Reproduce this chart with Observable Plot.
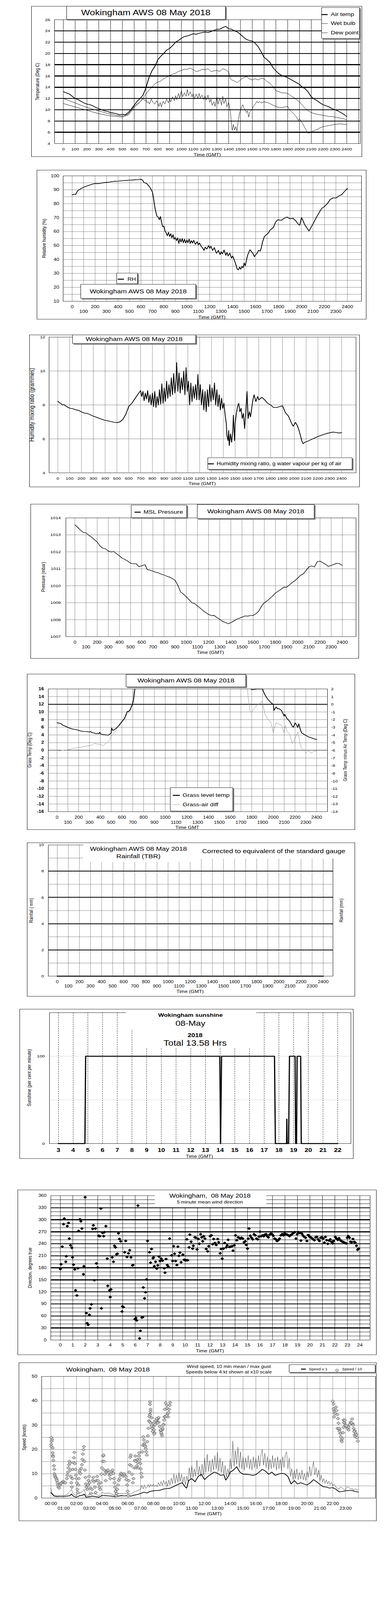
<!DOCTYPE html>
<html><head><meta charset="utf-8">
<script src="https://cdn.jsdelivr.net/npm/d3@7"></script>
<script src="https://cdn.jsdelivr.net/npm/@observablehq/plot@0.6"></script>
<style>
html,body{margin:0;padding:0;background:#fff;overflow:hidden;}
#wrap{position:relative;width:1000px;height:4096px;overflow:hidden;background:#fff}
#root{position:absolute;left:0;top:0;width:1000px;height:5000px;background:#fff;font-family:"Liberation Sans",Arial,Helvetica,sans-serif;color:#000;overflow:hidden;transform-origin:0 0}
</style></head><body><div id="wrap"><div id="root"></div></div>
<script>
// ---------------- DATA (hours GMT, value) ----------------
const airTemp = [[0,13.2],[0.25,13.0],[0.5,12.8],[0.75,12.4],[1,12.0],[1.25,11.8],[1.5,11.5],[1.75,11.2],[2,11.0],[2.25,10.9],[2.5,10.7],[2.75,10.4],[3,10.2],[3.25,10.0],[3.5,9.8],[3.75,9.7],[4,9.5],[4.25,9.4],[4.5,9.3],[4.75,9.1],[5,9.2],[5.25,9.1],[5.5,9.5],[5.75,10.1],[6,10.8],[6.25,11.5],[6.5,12.0],[6.75,12.6],[7,13.9],[7.25,15.7],[7.5,16.9],[7.75,17.7],[8,18.9],[8.25,19.5],[8.5,20.0],[8.75,20.6],[9,20.9],[9.25,21.4],[9.5,22.0],[9.75,22.3],[10,22.7],[10.25,23.0],[10.5,23.1],[10.75,23.3],[11,23.5],[11.25,23.4],[11.5,23.6],[11.75,23.7],[12,23.8],[12.25,23.7],[12.5,23.9],[12.75,24.1],[13,24.3],[13.25,24.3],[13.5,24.6],[13.75,24.8],[14,24.4],[14.25,24.3],[14.5,24.0],[14.75,23.8],[15,23.4],[15.25,22.9],[15.5,22.5],[15.75,22.3],[16,22.2],[16.25,21.8],[16.5,21.2],[16.75,20.3],[17,19.3],[17.25,18.9],[17.5,18.4],[17.75,17.5],[18,16.9],[18.25,16.4],[18.5,16.1],[18.75,15.9],[19,15.7],[19.25,15.4],[19.5,15.1],[19.75,14.8],[20,14.5],[20.25,14.0],[20.5,13.7],[20.75,13.1],[21,12.3],[21.25,11.9],[21.5,11.6],[21.75,11.2],[22,10.9],[22.25,10.7],[22.5,10.5],[22.75,10.2],[23,10.0],[23.25,9.8],[23.5,9.5],[23.75,9.2],[24,8.8]];
const wetBulb = [[0,12.0],[0.5,11.6],[1,11.2],[1.5,10.8],[2,10.4],[2.5,10.1],[3,9.8],[3.5,9.5],[4,9.2],[4.5,9.0],[5,8.9],[5.5,9.2],[6,10.6],[6.5,11.4],[7,12.8],[7.25,13.5],[7.5,14.0],[7.75,14.6],[8,14.9],[8.25,15.1],[8.5,15.5],[8.75,15.8],[9,16.1],[9.25,16.3],[9.5,16.5],[9.75,16.8],[10,17.0],[10.25,17.2],[10.5,17.2],[10.75,17.4],[11,17.1],[11.25,16.8],[11.5,16.9],[11.75,17.2],[12,17.1],[12.25,17.3],[12.5,16.8],[12.75,16.9],[13,17.0],[13.25,16.8],[13.5,17.3],[13.75,17.1],[14,16.7],[14.15,15.5],[14.25,15.3],[14.5,15.1],[14.75,14.8],[15,15.3],[15.25,15.7],[15.5,15.9],[15.75,15.5],[16,15.3],[16.25,15.5],[16.5,15.3],[16.75,15.6],[17,15.5],[17.25,15.0],[17.5,14.7],[17.75,14.1],[18,13.4],[18.25,13.2],[18.5,13.0],[18.75,13.0],[19,12.9],[19.25,12.5],[19.5,12.2],[19.75,11.8],[20,11.4],[20.25,10.8],[20.5,10.2],[20.75,9.8],[21,9.5],[21.25,9.3],[21.5,9.2],[21.75,9.1],[22,9.0],[22.25,8.9],[22.5,8.8],[22.75,8.8],[23,8.7],[23.25,8.6],[23.5,8.5],[23.75,8.4],[24,8.2]];
const dewPoint = [[0,11.1],[0.5,10.8],[1,10.5],[1.5,10.2],[2,9.9],[2.5,9.6],[3,9.3],[3.5,9.1],[4,8.9],[4.5,8.8],[5,8.7],[5.5,9.1],[6,10.4],[6.5,11.4],[6.75,12.0],[6.9,11.6],[7,11.8],[7.1,11.2],[7.2,11.4],[7.3,11.0],[7.45,11.9],[7.6,11.3],[7.75,11.0],[7.9,11.6],[8,11.2],[8.1,10.6],[8.2,11.3],[8.3,10.5],[8.45,11.5],[8.6,11.0],[8.75,11.9],[8.9,11.2],[9,12.0],[9.1,11.4],[9.25,12.3],[9.4,11.6],[9.5,12.5],[9.6,11.8],[9.75,12.9],[9.85,12.1],[10,13.4],[10.1,12.3],[10.25,13.0],[10.4,12.4],[10.5,13.6],[10.6,12.5],[10.75,13.2],[10.9,12.3],[11,12.9],[11.1,11.9],[11.25,12.8],[11.4,12.0],[11.5,12.9],[11.6,12.1],[11.75,12.6],[11.9,11.8],[12,12.5],[12.1,11.7],[12.25,12.6],[12.4,11.3],[12.5,11.9],[12.6,10.8],[12.75,11.4],[12.85,10.6],[13,12.3],[13.1,11.0],[13.25,12.1],[13.4,10.8],[13.5,12.4],[13.6,11.1],[13.75,11.9],[13.85,10.5],[14,11.3],[14.1,10.2],[14.15,9.6],[14.25,7.2],[14.3,6.3],[14.4,7.4],[14.5,6.4],[14.6,7.0],[14.7,6.2],[14.8,7.8],[14.9,9.2],[15,9.9],[15.1,10.5],[15.2,10.9],[15.3,10.3],[15.4,10.0],[15.5,9.5],[15.6,9.8],[15.7,8.7],[15.8,9.6],[15.9,9.9],[16,10.1],[16.1,10.6],[16.25,11.0],[16.4,11.5],[16.5,11.2],[16.6,11.5],[16.75,11.2],[17,11.4],[17.25,11.3],[17.5,11.1],[17.75,10.8],[18,10.6],[18.25,10.4],[18.5,10.4],[18.75,10.5],[19,10.6],[19.1,10.2],[19.25,9.8],[19.5,9.3],[19.75,8.7],[19.9,8.1],[20,8.4],[20.1,8.1],[20.25,7.6],[20.5,6.6],[20.7,5.9],[20.8,5.8],[21,6.1],[21.25,6.3],[21.5,6.5],[21.75,6.8],[22,7.0],[22.25,7.1],[22.5,7.2],[22.75,7.3],[23,7.4],[23.25,7.45],[23.5,7.5],[23.75,7.4],[24,7.4]];

const relHumidity = [[0,86.4],[0.15,86.8],[0.3,86.6],[0.5,89.5],[0.75,90.7],[1,91.8],[1.25,92.6],[1.5,93.3],[1.75,94.0],[2,94.5],[2.25,94.4],[2.5,94.7],[2.75,95.1],[3,95.3],[3.25,95.5],[3.5,95.9],[3.75,96.1],[4,96.2],[4.25,96.4],[4.5,96.6],[4.75,96.7],[5,96.9],[5.25,97.0],[5.5,97.2],[5.75,97.3],[6,97.5],[6.15,96.9],[6.25,95.3],[6.5,94.5],[6.75,92.2],[6.9,90.0],[7,88.4],[7.1,83.8],[7.2,78.0],[7.3,74.0],[7.4,71.0],[7.5,70.5],[7.6,68.5],[7.7,70.8],[7.8,66.5],[7.9,63.5],[8,64.0],[8.1,60.5],[8.2,59.0],[8.3,57.0],[8.4,59.5],[8.5,56.5],[8.6,58.5],[8.7,55.5],[8.8,57.8],[8.9,54.5],[9,55.8],[9.1,53.5],[9.2,55.5],[9.3,51.5],[9.4,54.8],[9.5,52.5],[9.6,55.0],[9.7,52.0],[9.8,54.5],[9.9,51.8],[10,54.0],[10.1,52.0],[10.2,54.6],[10.3,51.5],[10.4,53.5],[10.5,51.8],[10.6,53.8],[10.75,50.8],[10.9,52.8],[11,50.5],[11.1,51.8],[11.25,49.5],[11.4,48.0],[11.5,46.5],[11.6,48.8],[11.75,47.5],[11.9,50.0],[12,48.0],[12.1,49.5],[12.25,46.5],[12.4,48.5],[12.5,46.0],[12.6,44.5],[12.75,46.5],[12.9,43.5],[13,45.5],[13.1,44.0],[13.25,46.8],[13.4,43.0],[13.5,45.0],[13.6,42.5],[13.75,44.5],[13.9,41.0],[14,42.5],[14.1,40.5],[14.25,37.0],[14.4,33.0],[14.5,32.5],[14.6,34.5],[14.7,33.0],[14.8,35.0],[14.9,34.0],[15,37.5],[15.1,35.5],[15.2,39.5],[15.3,43.0],[15.4,45.0],[15.5,47.0],[15.6,46.0],[15.75,44.5],[15.9,42.0],[16,43.5],[16.1,44.0],[16.25,46.5],[16.4,46.0],[16.5,48.5],[16.6,52.5],[16.75,56.2],[16.9,57.5],[17,58.1],[17.15,59.5],[17.25,61.0],[17.4,62.0],[17.5,62.5],[17.6,64.0],[17.75,66.9],[17.9,68.3],[18,68.4],[18.25,68.1],[18.5,69.6],[18.75,70.4],[19,69.2],[19.25,69.6],[19.5,67.7],[19.75,65.0],[19.85,64.6],[20,70.0],[20.1,68.5],[20.25,65.4],[20.5,62.3],[20.65,60.5],[20.8,62.5],[21,65.5],[21.25,69.5],[21.5,73.0],[21.75,76.5],[22,78.0],[22.25,80.0],[22.5,83.0],[22.75,84.2],[23,84.0],[23.25,85.5],[23.5,86.5],[23.75,88.8],[24,91.0]];

const mixingRatio = [[0,8.22],[0.15,8.12],[0.25,8.09],[0.4,8.0],[0.5,8.03],[0.75,7.9],[1,7.81],[1.25,7.78],[1.5,7.72],[1.75,7.68],[2,7.59],[2.25,7.52],[2.5,7.5],[2.75,7.42],[3,7.34],[3.25,7.28],[3.5,7.21],[3.75,7.15],[4,7.09],[4.25,7.06],[4.5,7.02],[4.75,6.98],[5,6.96],[5.25,7.0],[5.5,7.15],[5.75,7.45],[6,7.91],[6.25,8.09],[6.5,8.35],[6.75,8.6],[7,8.85],[7.1,8.5],[7.2,8.8],[7.3,8.25],[7.4,8.7],[7.5,8.35],[7.6,8.85],[7.7,8.15],[7.8,8.6],[7.9,8.0],[8,8.7],[8.1,7.9],[8.2,8.8],[8.3,7.85],[8.4,8.5],[8.5,8.0],[8.6,8.9],[8.7,8.05],[8.8,9.25],[8.9,8.1],[9,9.0],[9.1,8.2],[9.2,9.4],[9.3,8.4],[9.4,9.2],[9.5,8.5],[9.6,9.6],[9.7,8.6],[9.8,9.85],[9.9,8.7],[10,9.5],[10.05,10.5],[10.15,8.8],[10.25,9.9],[10.35,8.7],[10.45,9.6],[10.55,8.9],[10.65,10.0],[10.75,8.6],[10.85,10.2],[10.95,8.8],[11.05,9.4],[11.15,8.0],[11.25,9.3],[11.35,8.2],[11.45,9.1],[11.55,8.4],[11.65,9.2],[11.75,8.3],[11.85,9.8],[11.95,8.3],[12.05,9.2],[12.15,8.0],[12.25,8.9],[12.35,7.7],[12.45,8.8],[12.55,7.6],[12.65,8.9],[12.75,7.9],[12.85,9.2],[12.95,8.2],[13.05,9.0],[13.15,8.3],[13.25,9.3],[13.35,8.0],[13.45,8.9],[13.55,7.9],[13.65,8.6],[13.75,7.7],[13.85,8.4],[13.95,7.8],[14.05,8.1],[14.15,7.4],[14.25,6.9],[14.3,6.2],[14.4,5.9],[14.45,6.5],[14.5,5.6],[14.6,6.3],[14.7,5.8],[14.8,6.5],[14.85,7.4],[14.95,5.9],[15,6.9],[15.1,7.5],[15.2,7.9],[15.3,8.1],[15.4,7.6],[15.5,7.8],[15.6,7.2],[15.7,7.5],[15.8,6.6],[15.9,7.6],[16,8.8],[16.1,7.2],[16.2,7.6],[16.3,7.3],[16.4,7.8],[16.5,8.3],[16.6,8.6],[16.75,8.2],[16.9,8.5],[17,8.3],[17.25,8.45],[17.5,8.3],[17.75,8.1],[18,8.0],[18.25,7.85],[18.5,7.85],[18.75,7.9],[19,7.95],[19.25,7.55],[19.5,7.35],[19.75,6.95],[19.9,6.75],[20,6.85],[20.1,6.97],[20.25,6.8],[20.4,6.5],[20.5,6.25],[20.65,5.85],[20.75,5.72],[20.9,5.8],[21,5.83],[21.25,5.9],[21.5,5.98],[21.75,6.06],[22,6.14],[22.25,6.2],[22.5,6.26],[22.75,6.32],[23,6.36],[23.25,6.4],[23.5,6.38],[23.75,6.35],[24,6.36]];

const mslPressure = [[0,1013.59],[0.25,1013.45],[0.5,1013.28],[0.75,1013.15],[1,1013.12],[1.25,1012.98],[1.5,1012.87],[1.75,1012.72],[2,1012.58],[2.25,1012.35],[2.5,1012.22],[2.75,1012.18],[3,1012.05],[3.25,1011.99],[3.5,1012.02],[3.75,1011.88],[4,1011.77],[4.25,1011.62],[4.5,1011.55],[4.75,1011.45],[5,1011.33],[5.25,1011.3],[5.5,1011.3],[5.75,1011.12],[6,1011.18],[6.15,1011.22],[6.3,1011.24],[6.5,1010.95],[6.75,1010.92],[7,1010.86],[7.25,1010.8],[7.5,1010.76],[7.75,1010.68],[8,1010.64],[8.25,1010.56],[8.5,1010.51],[8.75,1010.42],[9,1010.32],[9.25,1010.01],[9.5,1009.63],[9.75,1009.5],[10,1009.35],[10.25,1009.18],[10.5,1009.0],[10.75,1008.95],[11,1008.81],[11.25,1008.68],[11.5,1008.53],[11.75,1008.42],[12,1008.31],[12.25,1008.24],[12.5,1008.25],[12.75,1008.12],[13,1008.02],[13.25,1007.9],[13.5,1007.84],[13.75,1007.76],[14,1007.82],[14.25,1007.92],[14.5,1008.02],[14.75,1008.08],[15,1008.15],[15.25,1008.22],[15.5,1008.21],[15.75,1008.24],[16,1008.25],[16.25,1008.35],[16.5,1008.5],[16.75,1008.8],[17,1009.0],[17.25,1009.1],[17.5,1009.25],[17.75,1009.4],[18,1009.57],[18.25,1009.68],[18.5,1009.79],[18.75,1009.92],[19,1009.91],[19.25,1010.05],[19.5,1010.19],[19.75,1010.3],[20,1010.45],[20.25,1010.62],[20.5,1010.7],[20.75,1010.9],[21,1011.11],[21.25,1011.17],[21.5,1011.11],[21.75,1011.42],[22,1011.45],[22.25,1011.36],[22.5,1011.26],[22.75,1011.14],[23,1011.2],[23.25,1011.26],[23.5,1011.33],[23.75,1011.3],[24,1011.2]];

const grassTemp = [[0,7.24],[0.1,7.1],[0.25,7.05],[0.4,6.9],[0.5,6.6],[0.75,6.3],[1,5.96],[1.25,5.7],[1.5,5.51],[1.75,5.4],[2,5.21],[2.25,5.0],[2.5,4.92],[2.75,4.9],[3,4.77],[3.1,4.9],[3.25,4.6],[3.5,4.47],[3.6,4.3],[3.75,4.45],[3.85,4.3],[3.95,4.7],[4,4.32],[4.25,4.1],[4.5,4.02],[4.75,3.96],[5,4.47],[5.05,5.8],[5.15,5.2],[5.25,5.3],[5.5,5.81],[5.75,6.55],[6,7.45],[6.25,8.34],[6.4,9.5],[6.5,10.13],[6.6,10.1],[6.75,10.58],[6.9,11.5],[7,12.2],[7.1,13.7],[7.2,16.1],[7.3,19],[12,null],[17.8,19],[17.9,16.2],[18,15.8],[18.25,15.9],[18.5,16.0],[18.75,16.0],[19,16.0],[19.1,15.2],[19.25,14.3],[19.5,13.26],[19.75,12.5],[20,11.9],[20.05,10.4],[20.25,11.3],[20.4,10.8],[20.5,10.9],[20.75,10.4],[21,8.9],[21.05,9.4],[21.25,8.3],[21.5,7.6],[21.75,6.3],[21.85,6.0],[22,7.15],[22.1,6.8],[22.25,5.96],[22.35,6.9],[22.5,5.36],[22.6,4.6],[22.75,4.32],[23,3.87],[23.25,3.5],[23.5,3.27],[23.75,3.0],[24,2.83]];
const grassAirDiff = [[0,-6.0],[0.25,-6.05],[0.5,-5.98],[0.75,-6.02],[1,-5.93],[1.25,-5.85],[1.5,-5.7],[1.75,-5.72],[2,-5.63],[2.25,-5.6],[2.5,-5.48],[2.75,-5.45],[3,-5.4],[3.25,-5.3],[3.4,-5.15],[3.5,-5.1],[3.75,-5.2],[4,-5.25],[4.25,-5.4],[4.5,-5.1],[4.75,-4.88],[5,-4.21],[5.25,-3.77],[5.5,-3.32],[5.75,-2.57],[6,-2.13],[6.25,-1.75],[6.5,-1.25],[6.75,-0.95],[7,0.55],[7.1,2.05],[7.2,3.5],[12,null],[17.55,3.5],[17.6,2.05],[17.7,0.55],[17.85,-1.0],[18,-1.02],[18.25,-0.5],[18.5,-0.12],[18.75,0.1],[18.9,0.4],[19,0.1],[19.25,-1.38],[19.5,-1.98],[19.75,-2.28],[20,-3.77],[20.1,-3.02],[20.25,-2.43],[20.5,-2.57],[20.75,-2.73],[21,-3.77],[21.1,-2.73],[21.25,-3.47],[21.5,-3.92],[21.75,-5.1],[22,-4.51],[22.25,-3.62],[22.4,-4.51],[22.5,-5.4],[22.75,-6.0],[23,-6.3],[23.25,-6.07],[23.5,-6.37],[23.75,-6.1],[24,-6.15]];

const rainfall = [[0,0],[6,0],[12,0],[18,0],[24,0]];

const sunshine = [[3,0],[4.8,0],[4.85,100],[13.98,100],[14.03,0],[14.1,100],[17.7,100],[17.76,0],[18.52,0],[18.54,28],[18.56,0],[18.66,0],[18.72,100],[19.1,100],[19.14,0],[19.2,0],[19.24,100],[19.48,100],[19.52,0],[22,0]];

const windDir = [[0,177],[0.06,189],[0.16,233],[0.26,289],[0.32,303],[0.44,195],[0.48,209],[0.56,284],[0.66,292],[0.72,253],[0.82,236],[0.92,230],[0.98,206],[1.06,188],[1.16,176],[1.22,124],[1.33,111],[1.41,179],[1.47,272],[1.57,301],[1.65,296],[1.73,278],[1.85,164],[1.89,184],[1.99,356],[2.09,67],[2.15,42],[2.23,38],[2.33,63],[2.39,79],[2.49,89],[2.59,277],[2.65,286],[2.73,149],[2.81,278],[2.89,191],[2.99,181],[3.07,260],[3.17,259],[3.25,328],[3.29,79],[3.39,267],[3.47,259],[3.53,269],[3.65,284],[3.76,203],[3.80,135],[3.94,124],[4.0,107],[4.06,126],[4.16,206],[4.26,195],[4.34,235],[4.42,231],[4.50,214],[4.58,215],[4.66,266],[4.74,252],[4.84,246],[4.94,71],[4.98,84],[5.06,82],[5.16,219],[5.24,247],[5.34,207],[5.46,216],[5.56,224],[5.66,206],[5.78,186],[5.82,187],[5.98,52],[6.06,55],[6.12,49],[6.22,335],[6.35,4],[6.41,23],[6.53,56],[6.61,57],[6.65,131],[6.75,104],[6.83,119],[6.91,151],[6.99,247],[7.15,219],[7.23,193],[7.31,227],[7.43,204],[7.47,206],[7.53,184],[7.63,195],[7.73,178],[7.81,186],[7.91,208],[7.99,197],[8.09,203],[8.19,198],[8.33,179],[8.39,168],[8.47,202],[8.57,187],[8.65,183],[8.76,253],[8.92,211],[9.0,197],[9.08,234],[9.16,215],[9.24,197],[9.34,187],[9.42,233],[9.50,210],[9.58,218],[9.68,194],[9.82,213],[9.92,200],[10.02,199],[10.08,199],[10.14,251],[10.20,199],[10.32,231],[10.38,263],[10.48,245],[10.60,228],[10.66,235],[10.78,256],[10.86,255],[10.96,226],[11.06,252],[11.14,240],[11.24,264],[11.33,256],[11.41,246],[11.49,259],[11.59,253],[11.69,227],[11.81,221],[11.89,234],[12.01,259],[12.11,261],[12.21,239],[12.29,252],[12.39,242],[12.49,237],[12.61,252],[12.69,244],[12.81,216],[12.89,227],[12.97,203],[13.07,228],[13.17,242],[13.29,231],[13.37,236],[13.45,250],[13.55,232],[13.65,233],[13.76,234],[13.84,223],[13.94,236],[14.04,261],[14.14,249],[14.24,256],[14.32,255],[14.42,253],[14.52,255],[14.62,253],[14.72,244],[14.82,246],[14.90,237],[15.0,228],[15.06,253],[15.12,278],[15.22,260],[15.32,255],[15.42,251],[15.52,264],[15.62,261],[15.72,253],[15.82,251],[15.92,258],[16.0,270],[16.10,259],[16.20,261],[16.30,259],[16.39,263],[16.49,264],[16.59,259],[16.67,256],[16.77,263],[16.87,265],[16.97,264],[17.07,260],[17.17,253],[17.27,251],[17.37,247],[17.47,249],[17.57,253],[17.67,261],[17.77,264],[17.87,261],[17.97,266],[18.07,264],[18.17,263],[18.27,261],[18.37,259],[18.47,262],[18.57,264],[18.67,267],[18.78,269],[18.88,253],[18.98,264],[19.08,269],[19.18,267],[19.28,248],[19.36,265],[19.46,260],[19.56,257],[19.66,255],[19.76,247],[19.86,262],[19.96,258],[20.06,256],[20.16,254],[20.26,251],[20.36,249],[20.46,256],[20.56,257],[20.66,251],[20.76,247],[20.86,255],[20.96,256],[21.06,253],[21.16,243],[21.24,257],[21.35,249],[21.43,240],[21.53,248],[21.63,251],[21.73,245],[21.83,241],[21.89,247],[22.03,257],[22.13,253],[22.23,250],[22.33,254],[22.43,249],[22.51,247],[22.61,245],[22.71,244],[22.81,242],[22.91,241],[22.99,255],[23.07,259],[23.17,255],[23.25,245],[23.35,244],[23.45,252],[23.55,245],[23.63,243],[23.73,235],[23.82,225],[23.90,228]];

const windMean = [[0,2.3],[0.1,1.7],[0.25,0.8],[0.5,0.6],[0.75,0.65],[1,0.65],[1.25,0.8],[1.5,1.0],[1.6,1.7],[1.75,0.8],[2,0.35],[2.25,1.0],[2.5,1.2],[2.6,1.7],[2.75,0.35],[3,0.6],[3.25,0.8],[3.5,0.6],[3.75,0.35],[4,1.1],[4.25,1.0],[4.5,0.9],[4.75,0.8],[5,0.6],[5.25,0.8],[5.5,1.0],[5.75,0.9],[6,1.0],[6.25,0.8],[6.5,1.2],[6.75,1.45],[7,1.9],[7.25,2.4],[7.5,2.1],[7.75,2.75],[8,3.0],[8.25,3.1],[8.5,3.2],[8.75,3.65],[9,3.9],[9.25,4.0],[9.5,4.5],[9.75,5.2],[10,5.8],[10.25,6.3],[10.5,4.5],[10.6,4.1],[10.75,7.2],[11,8.0],[11.25,6.7],[11.5,8.9],[11.75,9.8],[12,7.6],[12.25,8.9],[12.5,9.8],[12.75,10.7],[13,10.2],[13.25,9.35],[13.5,9.6],[13.65,7.4],[13.85,8.9],[14,10.7],[14.25,11.5],[14.5,12.9],[14.75,10.7],[15,9.8],[15.25,9.8],[15.5,9.6],[15.75,9.35],[16,9.6],[16.25,10.7],[16.5,11.8],[16.75,11.1],[17,9.8],[17.25,10.7],[17.5,9.35],[17.75,9.8],[18,10.2],[18.25,10.0],[18.5,8.9],[18.75,5.8],[19,7.2],[19.25,5.8],[19.5,6.3],[19.75,5.8],[20,5.4],[20.25,6.3],[20.5,7.6],[20.75,6.7],[21,5.6],[21.25,4.7],[21.5,4.5],[21.75,4.1],[22,4.3],[22.25,3.65],[22.5,2.55],[22.75,2.75],[23,3.0],[23.25,3.1],[23.5,3.1],[23.75,2.75],[24,2.45]];
const windGust = [[0,4.1],[0.1,1.9],[0.25,1.2],[0.5,1.0],[0.75,1.1],[1,1.0],[1.25,1.45],[1.5,2.8],[1.6,3.6],[1.75,1.7],[2,1.0],[2.1,2.3],[2.25,1.9],[2.5,2.8],[2.6,3.6],[2.75,1.0],[3,1.45],[3.25,1.9],[3.5,1.7],[3.75,1.0],[4,2.3],[4.25,1.9],[4.5,2.1],[4.75,1.7],[5,1.0],[5.25,1.7],[5.5,1.9],[5.75,1.8],[6,1.9],[6.25,1.7],[6.5,2.55],[6.75,3.0],[7,3.6],[7.1,5.2],[7.2,3.8],[7.3,5.4],[7.4,4.0],[7.5,4.4],[7.6,5.6],[7.7,4.4],[7.8,5.6],[7.9,4.8],[8,5.8],[8.1,4.7],[8.2,5.4],[8.3,4.6],[8.4,6.4],[8.5,5.0],[8.6,6.8],[8.7,5.2],[8.8,7.4],[8.9,5.6],[9,6.8],[9.1,4.8],[9.2,7.5],[9.3,5.4],[9.4,8.2],[9.5,5.8],[9.6,10.0],[9.7,6.0],[9.8,9.5],[9.9,6.5],[10,10.5],[10.1,7.0],[10.2,9.8],[10.3,6.2],[10.4,8.8],[10.5,5.5],[10.6,9.0],[10.7,7.0],[10.8,12.5],[10.9,8.0],[11,13.5],[11.1,8.5],[11.2,12.0],[11.3,9.0],[11.4,15.5],[11.5,9.5],[11.6,13.0],[11.7,8.8],[11.8,14.0],[11.9,9.5],[12,16.5],[12.1,10.5],[12.2,18.0],[12.3,11.0],[12.4,15.5],[12.5,10.5],[12.6,16.0],[12.7,11.5],[12.8,17.5],[12.9,12.0],[13,18.8],[13.1,11.0],[13.2,16.5],[13.3,10.5],[13.4,15.0],[13.5,9.8],[13.6,13.5],[13.7,8.5],[13.8,12.0],[13.9,10.0],[14,16.0],[14.1,12.0],[14.2,23.5],[14.3,13.0],[14.4,19.5],[14.5,14.0],[14.6,21.0],[14.7,12.5],[14.8,19.0],[14.9,12.0],[15,17.0],[15.1,11.5],[15.2,16.5],[15.3,12.5],[15.4,17.5],[15.5,12.0],[15.6,16.0],[15.7,11.5],[15.8,17.0],[15.9,12.5],[16,16.5],[16.1,12.0],[16.2,17.5],[16.3,13.0],[16.4,18.0],[16.5,20.0],[16.6,13.5],[16.7,18.5],[16.8,12.5],[16.9,17.0],[17,11.5],[17.1,16.0],[17.2,12.0],[17.3,17.5],[17.4,12.5],[17.5,16.5],[17.6,11.5],[17.7,17.0],[17.8,12.0],[17.9,16.0],[18,11.0],[18.1,17.0],[18.2,12.5],[18.3,18.0],[18.4,19.0],[18.5,12.0],[18.6,16.5],[18.7,9.0],[18.8,12.0],[18.9,7.5],[19,11.5],[19.1,8.0],[19.2,12.0],[19.3,7.5],[19.4,10.5],[19.5,7.8],[19.6,11.5],[19.7,7.5],[19.8,10.0],[19.9,7.2],[20,11.0],[20.1,8.5],[20.2,13.0],[20.3,9.0],[20.4,12.5],[20.5,15.0],[20.6,9.5],[20.7,12.5],[20.8,8.5],[20.9,11.5],[21,7.0],[21.1,9.5],[21.2,6.5],[21.3,8.0],[21.4,6.0],[21.5,7.5],[21.6,5.8],[21.7,7.0],[21.8,5.5],[21.9,6.5],[22,5.0],[22.1,5.8],[22.25,4.5],[22.4,4.0],[22.5,3.6],[22.6,4.6],[22.75,4.1],[22.9,3.4],[23,3.6],[23.1,4.6],[23.25,4.5],[23.4,3.5],[23.5,4.1],[23.6,3.2],[23.75,3.9],[23.9,3.3],[24,3.6]];
const windLowX10 = [[0.04,24.9],[0.1,24.1],[0.06,23.4],[0.02,22.1],[0.04,21.2],[0.14,20.6],[0.14,18.6],[0.16,17.5],[0.18,17.0],[0.2,15.5],[0.24,13.3],[0.27,11.8],[0.27,10.0],[0.31,9.4],[0.35,8.7],[0.39,8.3],[0.45,7.8],[0.47,7.2],[0.51,6.3],[0.55,5.4],[0.59,4.5],[0.65,4.1],[0.7,5.2],[0.74,5.8],[0.82,6.1],[0.9,6.6],[0.98,6.8],[1.06,6.5],[1.13,6.3],[1.25,8.0],[1.29,9.4],[1.33,10.7],[1.37,12.4],[1.41,13.7],[1.45,15.1],[1.49,14.4],[1.53,11.5],[1.56,8.9],[1.6,6.3],[1.64,4.5],[1.68,8.0],[1.72,11.8],[1.76,14.6],[1.8,16.6],[1.84,18.8],[1.88,14.2],[1.92,11.8],[1.96,9.4],[2.0,8.0],[2.03,6.3],[2.07,3.6],[2.11,2.3],[2.15,5.4],[2.19,8.0],[2.23,10.7],[2.27,11.5],[2.31,10.0],[2.37,12.2],[2.43,13.7],[2.46,15.9],[2.5,18.1],[2.54,19.9],[2.58,21.2],[2.62,15.1],[2.66,11.5],[2.7,8.5],[2.74,5.8],[2.78,4.5],[2.84,3.6],[2.89,5.4],[2.93,7.2],[2.99,8.9],[3.03,6.3],[3.09,4.1],[3.15,1.9],[3.21,3.6],[3.27,7.2],[3.32,8.5],[3.38,6.7],[3.44,4.5],[3.5,2.3],[3.56,7.2],[3.62,8.9],[3.68,7.2],[3.74,5.8],[3.79,4.5],[3.85,3.6],[3.89,6.3],[3.95,9.8],[3.99,12.4],[4.03,15.1],[4.07,17.3],[4.11,17.7],[4.15,15.1],[4.19,11.5],[4.22,9.8],[4.28,7.2],[4.34,10.7],[4.4,11.3],[4.46,11.5],[4.52,10.5],[4.58,9.4],[4.64,8.0],[4.69,9.8],[4.75,11.1],[4.81,11.5],[4.87,10.2],[4.93,8.0],[4.97,6.3],[5.01,4.5],[5.05,2.8],[5.09,1.0],[5.14,1.9],[5.18,3.6],[5.24,5.4],[5.3,7.2],[5.36,8.0],[5.42,9.4],[5.48,10.2],[5.54,9.8],[5.59,9.4],[5.65,9.1],[5.71,10.0],[5.77,9.4],[5.83,8.9],[5.89,7.6],[5.95,5.4],[6.0,2.8],[6.04,1.0],[6.08,7.2],[6.12,10.7],[6.16,13.7],[6.2,16.8],[6.24,17.7],[6.28,13.3],[6.34,9.8],[6.4,6.3],[6.45,8.0],[6.51,12.4],[6.55,15.5],[6.59,17.3],[6.63,15.1],[6.67,12.4],[6.71,13.3],[6.75,15.9],[6.79,14.6],[6.83,12.4],[6.86,17.3],[6.9,18.6],[6.94,15.9],[6.98,14.2],[7.02,12.0],[7.06,10.2],[7.1,8.7],[7.14,19.0],[7.18,21.7],[7.22,25.2],[7.26,23.9],[7.3,22.5],[7.33,21.7],[7.37,21.2],[7.41,20.3],[7.45,19.0],[7.49,17.7],[7.53,23.2],[7.57,25.6],[7.61,28.7],[7.65,31.8],[7.69,33.5],[7.73,34.4],[7.74,39.6],[7.74,38.5],[7.78,36.5],[7.78,35.6],[7.74,34.3],[7.86,33.0],[7.71,31.4],[7.98,30.8],[8.02,29.5],[8.06,28.1],[8.1,26.8],[8.13,30.3],[8.21,31.6],[8.29,32.3],[8.37,32.7],[8.41,31.2],[8.49,29.5],[8.57,27.7],[8.64,26.4],[8.72,28.1],[8.8,30.3],[8.84,32.1],[8.88,33.4],[8.9,36.5],[8.96,39.1],[9.04,38.2],[9.08,36.9],[9.12,34.7],[9.15,33.4],[9.19,35.2],[9.23,36.5],[9.27,38.2],[9.31,39.3],[7.78,30.9],[7.86,29.6],[7.9,28.7],[7.94,27.4],[8.06,26.3],[8.18,31.8],[8.25,32.6],[8.33,30.9],[8.41,33.1],[8.57,28.0],[8.61,26.9],[8.68,25.6],[8.72,28.7],[8.76,30.0],[8.92,33.5],[9.04,33.9],[22.0,39.8],[22.06,38.7],[22.06,36.7],[22.12,35.8],[22.18,34.7],[22.1,33.4],[22.25,37.4],[22.29,36.0],[22.35,34.3],[22.41,32.7],[22.45,30.8],[22.37,28.6],[22.53,28.1],[22.84,32.1],[22.92,30.8],[23.0,29.9],[23.1,29.5],[23.16,28.6],[23.24,29.2],[23.31,30.3],[23.39,31.2],[23.51,32.5],[23.55,30.5],[23.63,28.6],[23.72,27.7],[22.49,28.7],[22.53,27.4],[22.59,26.5],[22.63,25.2],[22.67,23.8],[22.71,23.2],[22.75,24.5],[22.8,26.9],[22.84,29.1],[22.88,31.1],[22.94,32.0],[23.08,29.6],[23.24,28.0],[23.47,30.9],[23.59,30.0],[23.67,27.4],[23.71,26.0],[23.75,25.2],[23.79,26.7],[23.84,26.0],[23.9,24.9],[23.96,23.4]];

// tick values
const hours24 = d3.range(0, 25);
const hoursEven = d3.range(0, 25, 2);
const hoursOdd = d3.range(1, 24, 2);
const sunHours = d3.range(3, 23);
const hhmm = h => String(h * 100);
const clock = h => String(h).padStart(2, "0") + ":00";

// ---------------- helpers ----------------
const FONT = '"Liberation Sans", Arial, Helvetica, sans-serif';
const root = document.getElementById("root");
// the screenshot is capped at the window height; fit the 5000px reference layout into it
const viewH = Math.min(5000, window.innerHeight || 5000);
root.style.transform = `scale(1, ${viewH / 5000})`;
document.getElementById("wrap").style.height = viewH + "px";

const X = d => d[0], Y = d => d[1];
function el(css, txt) { const e = document.createElement("div"); Object.assign(e.style, {position: "absolute"}, css); if (txt != null) e.textContent = txt; root.appendChild(e); return e; }
function frame(L, T, R, B) { el({left: L + "px", top: T + "px", width: (R - L) + "px", height: (B - T) + "px", border: "1px solid #000", boxSizing: "border-box"}); }
function box(L, T, R, B, shadow = true, border = true) { el({left: L + "px", top: T + "px", width: (R - L) + "px", height: (B - T) + "px", border: border ? "1px solid #000" : "none", background: "#fff", boxSizing: "border-box", boxShadow: shadow ? "3px 3px 0 #808080" : "none"}); }
function text(s, cx, cy, size, o = {}) { el({left: cx + "px", top: cy + "px", fontSize: size + "px", lineHeight: "1", whiteSpace: "pre", fontWeight: o.bold ? "bold" : "normal", transform: o.left ? "translate(0,-50%)" : "translate(-50%,-50%)"}, s); }
function vtext(s, cx, cy, size) { el({left: cx + "px", top: cy + "px", fontSize: size + "px", lineHeight: "1", whiteSpace: "pre", transform: "translate(-50%,-50%) rotate(-90deg)"}, s); }
function swatch(L, R, y, w, color = "#000") { el({left: L + "px", top: (y - w / 2) + "px", width: (R - L) + "px", height: w + "px", background: color}); }

function chart(f, p, xd, yd, marks) {
  const svg = Plot.plot({
    width: f[2] - f[0], height: f[3] - f[1],
    marginLeft: p[0] - f[0], marginTop: p[1] - f[1], marginRight: f[2] - p[2], marginBottom: f[3] - p[3],
    x: {type: "linear", domain: xd}, y: {type: "linear", domain: yd},
    style: {fontFamily: FONT, fontSize: "12px", background: "transparent", color: "#000", overflow: "visible"},
    marks
  });
  Object.assign(svg.style, {position: "absolute", left: f[0] + "px", top: f[1] + "px", maxWidth: "none"});
  root.appendChild(svg);
}
const ax = (ticks, fmt, pad, fs, o = {}) => Plot.axisX({ticks, tickFormat: fmt, tickSize: 0, tickPadding: pad, fontSize: fs, label: null, anchor: "bottom", ...o});
const ay = (ticks, fmt, pad, fs, o = {}) => Plot.axisY({ticks, tickFormat: fmt, tickSize: 0, tickPadding: pad, fontSize: fs, label: null, anchor: "left", ...o});
const vg = (v, o = {}) => Plot.ruleX(v, {stroke: "#000", strokeWidth: 1, shapeRendering: "crispEdges", ...o});
const hg = (v, o = {}) => Plot.ruleY(v, {stroke: "#000", strokeWidth: 1, shapeRendering: "crispEdges", ...o});
const DOT = {strokeDasharray: "1,1"};

// ---------------- 1. Temperature ----------------
chart([80, 19, 926, 490], [139, 61, 921, 448], [-0.745, 25.15], [4, 26], [
  vg(d3.range(0, 26)),
  hg(d3.range(6, 25, 2), {strokeWidth: 3}),
  Plot.frame({stroke: "#000"}),
  Plot.line(dewPoint, {x: X, y: Y, stroke: "#000", strokeWidth: 1}),
  Plot.line(wetBulb, {x: X, y: Y, stroke: "#000", strokeWidth: 1}),
  Plot.line(airTemp, {x: X, y: Y, stroke: "#000", strokeWidth: 2}),
  ay(d3.range(4, 27, 2), d => String(d), 11, 12),
  ax(hours24, hhmm, 12.8, 12)
]);
// ---------------- 2. RH ----------------
chart([94, 531, 937, 998], [161, 549, 924, 941], [-0.784, 25.23], [10, 100], [
  vg(hours24, DOT), hg(d3.range(15, 100, 5), DOT),
  Plot.frame({stroke: "#000"}),
  Plot.line(relHumidity, {x: X, y: Y, stroke: "#000", strokeWidth: 2}),
  ay(d3.range(10, 101, 10), d => String(d), 10, 13),
  ax(hoursEven, hhmm, 12.5, 13), ax(hoursOdd, hhmm, 27.5, 13)
]);
// ---------------- 3. Mixing ratio ----------------
chart([75, 1046, 920, 1522], [125, 1053, 910, 1477], [-0.74, 25.22], [4, 12], [
  vg(hours24, DOT), hg([6, 8, 10], DOT),
  Plot.frame({stroke: "#000"}),
  Plot.line(mixingRatio, {x: X, y: Y, stroke: "#000", strokeWidth: 2}),
  ay([4, 6, 8, 10, 12], d => String(d), 10, 12),
  ax(hours24, hhmm, 12.8, 12)
]);
// ---------------- 4. Pressure ----------------
chart([78, 1575, 918, 2058], [168, 1618, 910, 1989], [-0.807, 25.23], [1007, 1014], [
  vg(hours24, DOT), hg(d3.range(1008, 1014), DOT),
  Plot.frame({stroke: "#000"}),
  Plot.line(mslPressure, {x: X, y: Y, stroke: "#000", strokeWidth: 1.6}),
  ay(d3.range(1007, 1015), d => String(d), 13, 12),
  ax(hoursEven, hhmm, 13.5, 13), ax(hoursOdd, hhmm, 27.5, 13)
]);
// ---------------- 5. Grass ----------------
chart([69, 2106, 908, 2593], [123, 2152.5, 837, 2536], [-0.81, 25.0], [-16, 16], [
  vg(hours24, DOT), hg(d3.range(-14, 15, 2).filter(v => v !== 0 && v !== 12), DOT),
  hg([0, 12], {strokeWidth: 1.5}),
  Plot.frame({stroke: "#000"}),
  Plot.line(grassAirDiff, {x: X, y: d => d[1] == null ? null : 2 * d[1] + 12, stroke: "#8c8c8c", strokeWidth: 1, clip: true}),
  Plot.line(grassTemp, {x: X, y: Y, stroke: "#000", strokeWidth: 2, clip: true}),
  ay(d3.range(-16, 17, 2), d => String(d), 11, 12.5, {fontWeight: "bold"}),
  ay(d3.range(-16, 17, 2), d => String((d - 12) / 2), 9, 12, {anchor: "right"}),
  ax(hoursEven, hhmm, 13.6, 12.5), ax(hoursOdd, hhmm, 28.6, 12.5)
]);
// ---------------- 6. Rainfall ----------------
chart([69, 2633, 908, 3114], [123, 2640, 851, 3050], [-0.81, 24.88], [0, 10], [
  vg(hours24, DOT), hg([1, 3, 5, 7, 9], DOT), hg([2, 4, 6, 8], {strokeWidth: 2.5}),
  Plot.frame({stroke: "#000"}),
  Plot.line(rainfall, {x: X, y: Y, stroke: "#000", strokeWidth: 3}),
  ay(d3.range(0, 11, 2), d => String(d), 11, 12),
  ax(hoursEven, hhmm, 12.6, 12.5), ax(hoursOdd, hhmm, 26.6, 12.5)
]);
// ---------------- 7. Sunshine ----------------
chart([50, 3153, 904, 3621], [126, 3164, 897, 3573], [2.388, 22.9], [0, 150], [
  vg(sunHours, {strokeDasharray: "4,3"}),
  hg([50, 100], {stroke: "#aaa", strokeDasharray: "1,1"}),
  Plot.frame({stroke: "#000"}),
  Plot.line(sunshine, {x: X, y: Y, stroke: "#000", strokeWidth: 3}),
  ay([0, 100], d => String(d), 12, 12),
  ax(sunHours, d => String(d), 14, 17, {fontWeight: "bold"})
]);
// ---------------- 8. Wind direction ----------------
chart([45, 3718, 963, 4234], [129.5, 3736, 946, 4187], [-0.76, 24.82], [0, 360], [
  vg(hours24), hg(d3.range(10, 360, 10)), hg(d3.range(30, 331, 30), {strokeWidth: 3}),
  Plot.frame({stroke: "#000"}),
  Plot.dot(windDir, {x: X, y: Y, symbol: "diamond2", r: 4.2, fill: "#000", stroke: "none"}),
  ay(d3.range(0, 361, 30), d => String(d), 11, 12.5),
  ax(hours24, d => String(d), 11.5, 13)
]);
// ---------------- 9. Wind speed ----------------
chart([48, 4258, 963, 4753], [106, 4301, 960, 4681], [-0.717, 25.34], [0, 50], [
  vg(hours24, DOT), hg(d3.range(5, 50, 5), DOT),
  Plot.frame({stroke: "#000"}),
  Plot.line(windGust, {x: X, y: Y, stroke: "#444", strokeWidth: 1}),
  Plot.line(windMean, {x: X, y: Y, stroke: "#000", strokeWidth: 2}),
  Plot.dot(windLowX10, {x: X, y: Y, symbol: "diamond2", r: 4.2, fill: "#c8c8c8", stroke: "#000", strokeWidth: 0.7}),
  ay(d3.range(0, 51, 10), d => String(d), 11, 13),
  ax(hoursEven.slice(0, 12), clock, 12.6, 12.5), ax(hoursOdd, clock, 27.6, 12.5)
]);

// ---------------- overlays: frames, titles, legends, labels ----------------
const TITLE = "Wokingham AWS 08 May 2018";
// 1
frame(80, 19, 926, 490);
box(170, 19, 577, 61); text(TITLE, 373, 40, 24);
box(822, 23, 920, 121);
swatch(822, 838, 45, 3); text("Air temp", 846, 45, 16, {left: true});
swatch(822, 838, 73, 1); text("Wet bulb", 846, 73, 16, {left: true});
swatch(822, 838, 102, 1); text("Dew point", 846, 102, 16, {left: true});
vtext("Temperature (Deg C)", 96, 255, 12.5);
text("Time (GMT)", 530, 484, 13);
// 2
frame(94, 531, 937, 998);
box(298, 853, 352, 887); swatch(301, 317, 872, 3); text("RH", 326, 872, 15, {left: true});
box(206, 888, 501, 933); text(TITLE, 353.5, 911, 18);
vtext("Relative humidity (%)", 112, 745, 13);
text("Time (GMT)", 542, 992, 13);
// 3
frame(75, 1046, 920, 1522);
box(185, 1046, 501, 1074); text(TITLE, 343, 1060, 18);
box(531, 1430, 901, 1467); swatch(532, 547, 1449, 3);
text("Humidity mixing ratio, g water vapour per kg of air", 554, 1449, 14.5, {left: true});
vtext("Humidity mixing ratio (grammes)", 82, 1265, 16);
text("Time (GMT)", 517, 1512, 13);
// 4
frame(78, 1575, 918, 2058);
box(335, 1578, 478, 1618); swatch(344, 360, 1600, 3); text("MSL Pressure", 367, 1600, 16, {left: true});
box(504, 1576, 804, 1621); text(TITLE, 654, 1598, 18);
vtext("Pressure (mbar)", 110, 1803, 13);
text("Time (GMT)", 538, 2039, 13);
// 5
frame(69, 2106, 908, 2593);
box(322, 2107, 629, 2147); text(TITLE, 475.5, 2127, 18);
box(435, 2461, 596, 2535);
swatch(442, 460, 2485, 3); text("Grass level temp", 467, 2485, 16, {left: true});
swatch(442, 460, 2514, 1, "#8c8c8c"); text("Grass-air diff", 467, 2514, 16, {left: true});
vtext("Grass Temp (Deg C)", 76, 2344, 12);
vtext("Grass Temp minus Air Temp (Deg C)", 883, 2344, 12);
text("Time GMT", 479, 2586, 13);
// 6
frame(69, 2633, 908, 3114);
box(213, 2636, 500, 2694, false, false); box(500, 2636, 856, 2683, false, false);
text(TITLE, 354, 2653, 18); text("Rainfall (TBR)", 354, 2676, 18);
text("Corrected to equivalent of the standard gauge", 700, 2660, 18);
vtext("Rainfall ( mm)", 80, 2845, 12.5); vtext("Rainfall (mm)", 873, 2845, 12.5);
text("Time (GMT)", 486, 3099, 13);
// 7
frame(50, 3153, 904, 3621);
box(322, 3162, 655, 3218, false, false); box(340, 3218, 641, 3275, false, false);
text("Wokingham sunshine", 487, 3172, 16, {bold: true});
text("08-May", 487, 3198, 23);
text("2018", 499, 3235, 17, {bold: true});
text("Total 13.58 Hrs", 499, 3260, 24);
vtext("Sunshine (per cent per minute)", 74, 3368, 13);
text("Time (GMT)", 510, 3614, 13);
// 8
frame(45, 3718, 963, 4234);
box(396, 3728, 681, 3773, false, false);
text("Wokingham,  08 May 2018", 537, 3737, 17.5);
text("5 minute mean wind direction", 537, 3757, 13);
vtext("Direction, degrees true", 77, 3962, 12.5);
text("Time (GMT)", 537, 4222, 13.5);
// 9
frame(48, 4258, 963, 4753);
text("Wokingham,  08 May 2018", 276, 4280, 18);
text("Wind speed, 10 min mean / max gust", 585, 4271, 13);
text("Speeds below 4 kt shown at x10 scale", 585, 4287, 13);
box(739, 4264, 960, 4289);
swatch(770, 782, 4278, 3); text("Speed x 1", 790, 4278, 10.5, {left: true});
const dm = el({left: "857px", top: "4273px", width: "10px", height: "10px"});
dm.innerHTML = '<svg width="10" height="10" viewBox="0 0 10 10"><polygon points="5,0.5 9.5,5 5,9.5 0.5,5" fill="#e0e0e0" stroke="#000" stroke-width="0.8"/></svg>';
text("Speed / 10", 875, 4278, 10.5, {left: true});
vtext("Speed (knots)", 61, 4492, 13);
text("Time (GMT)", 532, 4730, 13);
</script></body></html>
